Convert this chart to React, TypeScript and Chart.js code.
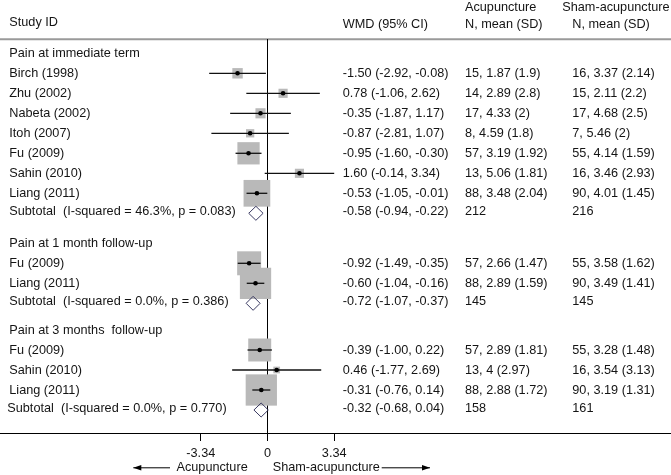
import React, { useEffect, useRef } from 'react';
import { Chart, registerables } from 'chart.js';

Chart.register(...registerables);

// ---------------- data ----------------
const groupTitles = ['Pain at immediate term', 'Pain at 1 month follow-up', 'Pain at 3 months  follow-up'];

const studyLabels = [
  'Birch (1998)', 'Zhu (2002)', 'Nabeta (2002)', 'Itoh (2007)', 'Fu (2009)', 'Sahin (2010)', 'Liang (2011)',
  'Fu (2009)', 'Liang (2011)',
  'Fu (2009)', 'Sahin (2010)', 'Liang (2011)',
];
const studyGroup = [0, 0, 0, 0, 0, 0, 0, 1, 1, 2, 2, 2];
const wmd = [-1.5, 0.78, -0.35, -0.87, -0.95, 1.6, -0.53, -0.92, -0.6, -0.39, 0.46, -0.31];
const ciLow = [-2.92, -1.06, -1.87, -2.81, -1.6, -0.14, -1.05, -1.49, -1.04, -1.0, -1.77, -0.76];
const ciHigh = [-0.08, 2.62, 1.17, 1.07, -0.3, 3.34, -0.01, -0.35, -0.16, 0.22, 2.69, 0.14];
const weights = [7, 5.4, 6.6, 4.4, 32, 5.4, 46, 37, 63, 34, 2.9, 63];

const acupN = [15, 14, 17, 8, 57, 13, 88, 57, 88, 57, 13, 88];
const acupMean = [1.87, 2.89, 4.33, 4.59, 3.19, 5.06, 3.48, 2.66, 2.89, 2.89, 4, 2.88];
const acupSD = [1.9, 2.8, 2, 1.8, 1.92, 1.81, 2.04, 1.47, 1.59, 1.81, 2.97, 1.72];
const shamN = [16, 15, 17, 7, 55, 16, 90, 55, 90, 55, 16, 90];
const shamMean = [3.37, 2.11, 4.68, 5.46, 4.14, 3.46, 4.01, 3.58, 3.49, 3.28, 3.54, 3.19];
const shamSD = [2.14, 2.2, 2.5, 2, 1.59, 2.93, 1.45, 1.62, 1.41, 1.48, 3.13, 1.31];

const subWmd = [-0.58, -0.72, -0.32];
const subLow = [-0.94, -1.07, -0.68];
const subHigh = [-0.22, -0.37, 0.04];
const subI2 = [46.3, 0.0, 0.0];
const subP = [0.083, 0.386, 0.77];
const subAcupN = [212, 145, 158];
const subShamN = [216, 145, 161];

const xTicks = [-3.34, 0, 3.34];
const headerLabels = ['Study ID', 'WMD (95% CI)', 'Acupuncture', 'N, mean (SD)', 'Sham-acupuncture', 'N, mean (SD)'];
const directionLabels = ['Acupuncture', 'Sham-acupuncture'];

// ---------------- layout (row positions, in row units) ----------------
const groupTitleRow = [-1, 8.5, 12.835];
const studyRow = [0, 1, 2, 3, 4, 5, 6, 9.5, 10.5, 13.835, 14.835, 15.835];
const subtotalRow = [7, 11.5, 16.835];

const W = 671;
const H = 475;
const AXIS_PX = 433;
const ROW0_PX = 73.3;
const ROW_PX = 20;
const ZERO_PX = 267.5;
const UNIT_PX = 19.97;
const Y_MIN = -ROW0_PX / ROW_PX;
const Y_MAX = (AXIS_PX - ROW0_PX) / ROW_PX;
const X_MIN = -ZERO_PX / UNIT_PX;
const X_MAX = (W - ZERO_PX) / UNIT_PX;
const HEADER_LINE_PX = 39.3;

const FONT_FAMILY = '"Liberation Sans", Arial, sans-serif';
const FONT_SIZE = 12.7;
const FONT = `${FONT_SIZE}px ${FONT_FAMILY}`;
const TEXT_COLOR = '#141414';
const BOX_COLOR = '#b9b9b9';
const DIAMOND_COLOR = '#3a3a62';

const COL_STUDY = 9.3;
const COL_WMD = 342.7;
const COL_ACUP = 465;
const COL_SHAM = 572.3;
const COL_SHAM_HEAD = 562.3;

const fmt2 = (v: number) => v.toFixed(2);

const forestText = {
  id: 'forestText',
  beforeDatasetsDraw(chart: any) {
    const { ctx } = chart;
    ctx.save();
    ctx.strokeStyle = '#9a9a9a';
    ctx.lineWidth = 2;
    ctx.beginPath();
    ctx.moveTo(0, HEADER_LINE_PX);
    ctx.lineTo(W, HEADER_LINE_PX);
    ctx.stroke();
    ctx.restore();
  },
  afterDraw(chart: any) {
    const { ctx } = chart;
    const y = chart.scales.y;
    const x = chart.scales.x;
    ctx.save();
    ctx.font = FONT;
    ctx.fillStyle = TEXT_COLOR;
    ctx.textBaseline = 'middle';
    ctx.textAlign = 'left';

    // header
    ctx.fillText(headerLabels[0], COL_STUDY, 22.7);
    ctx.fillText(headerLabels[1], COL_WMD, 24);
    ctx.fillText(headerLabels[2], COL_ACUP, 7);
    ctx.fillText(headerLabels[3], COL_ACUP, 24);
    ctx.fillText(headerLabels[4], COL_SHAM_HEAD, 7);
    ctx.fillText(headerLabels[5], COL_SHAM, 24);

    groupTitles.forEach((t, g) => {
      ctx.fillText(t, COL_STUDY, y.getPixelForValue(groupTitleRow[g]));
    });

    studyLabels.forEach((s, i) => {
      const py = y.getPixelForValue(studyRow[i]);
      ctx.fillText(s, COL_STUDY, py);
      ctx.fillText(`${fmt2(wmd[i])} (${fmt2(ciLow[i])}, ${fmt2(ciHigh[i])})`, COL_WMD, py);
      ctx.fillText(`${acupN[i]}, ${acupMean[i]} (${acupSD[i]})`, COL_ACUP, py);
      ctx.fillText(`${shamN[i]}, ${shamMean[i]} (${shamSD[i]})`, COL_SHAM, py);
    });

    subWmd.forEach((v, g) => {
      const py = y.getPixelForValue(subtotalRow[g]) - 1.7;
      ctx.fillText(`Subtotal  (I-squared = ${subI2[g].toFixed(1)}%, p = ${subP[g].toFixed(3)})`, g === 2 ? COL_STUDY - 2 : COL_STUDY, py);
      ctx.fillText(`${fmt2(v)} (${fmt2(subLow[g])}, ${fmt2(subHigh[g])})`, COL_WMD, py);
      ctx.fillText(`${subAcupN[g]}`, COL_ACUP, py);
      ctx.fillText(`${subShamN[g]}`, COL_SHAM, py);
    });

    // direction labels with arrows
    const zx = x.getPixelForValue(0);
    const ay = 467.3;
    ctx.textAlign = 'right';
    ctx.fillText(directionLabels[0], zx - 19.8, ay);
    ctx.textAlign = 'left';
    ctx.fillText(directionLabels[1], zx + 5.2, ay);

    ctx.strokeStyle = '#000';
    ctx.fillStyle = '#000';
    ctx.lineWidth = 1;
    const arrow = (x1: number, x2: number, dir: number) => {
      ctx.beginPath();
      ctx.moveTo(x1, ay + 0.5);
      ctx.lineTo(x2, ay + 0.5);
      ctx.stroke();
      const tip = dir < 0 ? x1 : x2;
      ctx.beginPath();
      ctx.moveTo(tip, ay + 0.5);
      ctx.lineTo(tip - dir * 8, ay + 0.5 - 2.8);
      ctx.lineTo(tip - dir * 8, ay + 0.5 + 2.8);
      ctx.closePath();
      ctx.fill();
    };
    arrow(zx - 134.2, zx - 97.5, -1);
    arrow(zx + 114.2, zx + 162.5, 1);
    ctx.restore();
  },
};

export default function App() {
  const ref = useRef<HTMLCanvasElement | null>(null);

  useEffect(() => {
    if (!ref.current) return;

    const boxSide = (w: number) => 3.94 * Math.sqrt(w);

    const ciSets = studyLabels.map((_, i) => ({
      type: 'line' as const,
      data: [
        { x: ciLow[i], y: studyRow[i] },
        { x: ciHigh[i], y: studyRow[i] },
      ],
      borderColor: '#111',
      borderWidth: 1.3,
      pointRadius: 0,
      showLine: true,
      fill: false,
      order: 2,
    }));

    const diamondSets = subWmd.map((v, g) => {
      const r = subtotalRow[g];
      const h = 7 / ROW_PX;
      return {
        type: 'line' as const,
        data: [
          { x: subLow[g], y: r },
          { x: v, y: r - h },
          { x: subHigh[g], y: r },
          { x: v, y: r + h },
          { x: subLow[g], y: r },
        ],
        borderColor: DIAMOND_COLOR,
        backgroundColor: '#fff',
        borderWidth: 1,
        pointRadius: 0,
        showLine: true,
        fill: false,
        order: 2,
      };
    });

    const chart = new Chart(ref.current, {
      type: 'scatter',
      data: {
        datasets: [
          {
            type: 'line',
            data: [
              { x: 0, y: (HEADER_LINE_PX - ROW0_PX) / ROW_PX },
              { x: 0, y: Y_MAX },
            ],
            borderColor: '#000',
            borderWidth: 1,
            pointRadius: 0,
            showLine: true,
            fill: false,
            order: 5,
          } as any,
          {
            data: studyRow.map((r, i) => ({ x: wmd[i], y: r })),
            pointStyle: 'rect',
            pointRadius: weights.map((w) => boxSide(w) / Math.SQRT2),
            backgroundColor: BOX_COLOR,
            borderColor: BOX_COLOR,
            borderWidth: 0,
            order: 3,
          } as any,
          ...(ciSets as any[]),
          ...(diamondSets as any[]),
          {
            data: studyRow.map((r, i) => ({ x: wmd[i], y: r })),
            pointStyle: 'circle',
            pointRadius: 2.3,
            backgroundColor: '#000',
            borderWidth: 0,
            order: 1,
          } as any,
        ],
      },
      options: {
        animation: false,
        responsive: false,
        devicePixelRatio: 1,
        events: [],
        layout: { padding: 0, autoPadding: false },
        plugins: { legend: { display: false }, tooltip: { enabled: false } },
        scales: {
          x: {
            type: 'linear',
            position: 'bottom',
            min: X_MIN,
            max: X_MAX,
            afterBuildTicks: (scale: any) => {
              scale.ticks = xTicks.map((v) => ({ value: v }));
            },
            afterFit: (scale: any) => {
              scale.height = H - AXIS_PX;
            },
            ticks: {
              autoSkip: false,
              maxRotation: 0,
              padding: 5,
              color: TEXT_COLOR,
              font: { family: FONT_FAMILY, size: FONT_SIZE },
              callback: (v: any) => (Number(v) === 0 ? '0' : Number(v).toFixed(2)),
            },
            grid: { drawOnChartArea: false, drawTicks: true, tickLength: 8, color: '#000', lineWidth: 1 },
            border: { display: true, color: '#000', width: 1 },
          },
          y: {
            type: 'linear',
            display: false,
            reverse: true,
            min: Y_MIN,
            max: Y_MAX,
          },
        },
      },
      plugins: [forestText],
    });

    return () => chart.destroy();
  }, []);

  return (
    <div style={{ position: 'fixed', left: 0, top: 0, width: W, height: H, background: '#fff' }}>
      <canvas ref={ref} width={W} height={H} style={{ display: 'block', width: W, height: H }} />
    </div>
  );
}
